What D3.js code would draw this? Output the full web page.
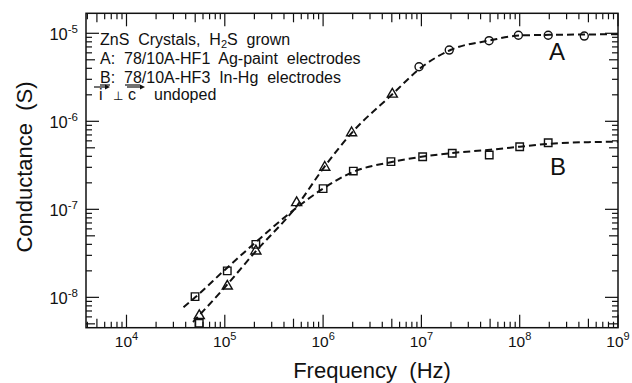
<!DOCTYPE html>
<html>
<head>
<meta charset="utf-8">
<script src="https://cdn.jsdelivr.net/npm/d3@7"></script>
<style>
    body { margin: 0; background: #fff; }
    text { font-family: "Liberation Sans", Arial, sans-serif; fill: #111; }
</style>
</head>
<body>
<svg id="chart" width="632" height="383"></svg>
<script>
// sample A, low frequency (triangles) and high frequency (circles)
const triangle_freq = [5.5e4, 1.06e5, 2.07e5, 5.38e5, 1.04e6, 1.95e6, 5.06e6];
const triangle_cond = [6.2e-9, 1.34e-8, 3.36e-8, 1.19e-7, 3.0e-7, 7.4e-7, 2.03e-6];
const circle_freq = [9.46e6, 1.92e7, 4.88e7, 9.7e7, 1.95e8, 4.54e8];
const circle_cond = [4.17e-6, 6.45e-6, 8.24e-6, 9.5e-6, 9.5e-6, 9.3e-6];

// sample B (squares)
const square_freq = [5.5e4, 4.98e4, 1.06e5, 2.07e5, 1.0e6, 2.03e6, 4.9e6, 1.03e7, 2.06e7, 4.9e7, 1.0e8, 1.95e8];
const square_cond = [5.07e-9, 1.02e-8, 2.0e-8, 4.0e-8, 1.72e-7, 2.72e-7, 3.48e-7, 3.96e-7, 4.33e-7, 4.14e-7, 5.14e-7, 5.71e-7];

// dashed fit curves
const fit_a_freq = [4.75e4, 1e5, 2e5, 5.5e5, 1e6, 2e6, 5e6, 1e7, 2e7, 5e7, 1e8, 2e8, 5e8, 1e9];
const fit_a_cond = [5.25e-9, 1.3e-8, 3.2e-8, 1.12e-7, 2.9e-7, 7.6e-7, 2.0e-6, 4.1e-6, 6.5e-6, 8.3e-6, 9.45e-6, 9.6e-6, 9.7e-6, 9.75e-6];
const fit_b_freq = [3.8e4, 5e4, 1e5, 2e5, 5e5, 1e6, 2e6, 5e6, 1e7, 2e7, 5e7, 1e8, 2e8, 5e8, 1e9];
const fit_b_cond = [7.7e-9, 1.0e-8, 2.05e-8, 4.1e-8, 9.8e-8, 1.72e-7, 2.65e-7, 3.45e-7, 3.95e-7, 4.35e-7, 4.75e-7, 5.15e-7, 5.55e-7, 5.8e-7, 5.86e-7];

// axis decades with labels
const x_decades = [4, 5, 6, 7, 8, 9];
const y_decades = [-8, -7, -6, -5];

const legend_lines = [
    "ZnS  Crystals,  H|2|S  grown",
    "A:  78/10A-HF1  Ag-paint  electrodes",
    "B:  78/10A-HF3  In-Hg  electrodes",
];

const width = 632;
const height = 383;
const margin = { top: 13.3, right: 14, bottom: 55.3, left: 86 };
const left = margin.left, right = width - margin.right;
const top_ = margin.top, bottom = height - margin.bottom;

const svg = d3.select('#chart');

const x = d3.scaleLog().domain([3.873e3, 1e9]).range([left, right]);
const y = d3.scaleLog().domain([4.52e-9, 1.687e-5]).range([bottom, top_]);

// frame
svg.append('rect')
    .attr('x', left).attr('y', top_)
    .attr('width', right - left).attr('height', bottom - top_)
    .attr('fill', 'none').attr('stroke', '#111').attr('stroke-width', 1.5);

function log_ticks(scale, e0, e1) {
    const [d0, d1] = scale.domain();
    const out = [];
    for (let e = e0; e <= e1; e++) {
        for (let m = 1; m <= 9; m++) {
            const v = m * Math.pow(10, e);
            if (v >= d0 * 0.999 && v <= d1 * 1.001) out.push({ v, m });
        }
    }
    return out;
}
const tick_len = m => m === 1 ? 13 : (m === 5 ? 9 : 6);

const ticks = svg.append('g').attr('stroke', '#111').attr('stroke-width', 1.2);

log_ticks(x, 3, 9).forEach(t => {
    const px = x(t.v), len = tick_len(t.m);
    ticks.append('line').attr('x1', px).attr('x2', px).attr('y1', bottom).attr('y2', bottom - len);
    ticks.append('line').attr('x1', px).attr('x2', px).attr('y1', top_).attr('y2', top_ + len);
});
log_ticks(y, -9, -5).forEach(t => {
    const py = y(t.v), len = tick_len(t.m);
    ticks.append('line').attr('x1', left).attr('x2', left + len).attr('y1', py).attr('y2', py);
    ticks.append('line').attr('x1', right).attr('x2', right - len).attr('y1', py).attr('y2', py);
});

// tick labels
x_decades.forEach(e => {
    const t = svg.append('text')
        .attr('x', x(Math.pow(10, e)))
        .attr('y', 347)
        .attr('text-anchor', 'middle')
        .style('font-size', '15.5px');
    t.append('tspan').text('10');
    t.append('tspan').attr('dy', -7).style('font-size', '11px').text(e);
});
y_decades.forEach(e => {
    const t = svg.append('text')
        .attr('x', 78)
        .attr('y', y(Math.pow(10, e)) + 7)
        .attr('text-anchor', 'end')
        .style('font-size', '16.5px');
    t.append('tspan').text('10');
    t.append('tspan').attr('dy', -7).style('font-size', '11.5px').text('-' + Math.abs(e));
});

// axis titles
svg.append('text')
    .attr('x', 372).attr('y', 378)
    .attr('text-anchor', 'middle')
    .style('font-size', '22px')
    .style('white-space', 'pre')
    .text('Frequency  (Hz)');
svg.append('text')
    .attr('transform', 'translate(32,167) rotate(-90)')
    .attr('text-anchor', 'middle')
    .style('font-size', '22px')
    .style('white-space', 'pre')
    .text('Conductance  (S)');

// fit curves
const line = d3.line()
    .x(d => x(d[0]))
    .y(d => y(d[1]))
    .curve(d3.curveMonotoneX);

[[fit_a_freq, fit_a_cond], [fit_b_freq, fit_b_cond]].forEach(([f, c]) => {
    svg.append('path')
        .datum(d3.zip(f, c))
        .attr('d', line)
        .attr('fill', 'none')
        .attr('stroke', '#111')
        .attr('stroke-width', 2)
        .attr('stroke-dasharray', '7,4');
});

// markers
const marks = svg.append('g').attr('fill', 'none').attr('stroke', '#111').attr('stroke-width', 1.4);

marks.selectAll('.tri')
    .data(d3.zip(triangle_freq, triangle_cond))
    .enter().append('path')
    .attr('class', 'tri')
    .attr('d', d3.symbol(d3.symbolTriangle, 44))
    .attr('transform', d => `translate(${x(d[0])},${y(d[1])})`);

marks.selectAll('.circ')
    .data(d3.zip(circle_freq, circle_cond))
    .enter().append('circle')
    .attr('class', 'circ')
    .attr('r', 4)
    .attr('cx', d => x(d[0]))
    .attr('cy', d => y(d[1]));

marks.selectAll('.sq')
    .data(d3.zip(square_freq, square_cond))
    .enter().append('path')
    .attr('class', 'sq')
    .attr('d', d3.symbol(d3.symbolSquare, 56))
    .attr('transform', d => `translate(${x(d[0])},${y(d[1])})`);

// curve labels
svg.append('text').attr('x', 557).attr('y', 60).attr('text-anchor', 'middle').style('font-size', '24px').text('A');
svg.append('text').attr('x', 558).attr('y', 175).attr('text-anchor', 'middle').style('font-size', '24px').text('B');

// legend block
const legend = svg.append('g').style('font-size', '16px');
const baselines = [45, 64, 83];
legend_lines.forEach((s, i) => {
    const t = legend.append('text')
        .attr('x', 100).attr('y', baselines[i])
        .style('white-space', 'pre');
    const parts = s.split('|');
    parts.forEach((p, j) => {
        if (j === 1) {
            t.append('tspan').attr('dy', 3).style('font-size', '11px').text(p);
        } else {
            const ts = t.append('tspan').text(p);
            if (j === 2) ts.attr('dy', -3);
        }
    });
});

// underline marks on line B
const deco = svg.append('g').attr('stroke', '#111').attr('stroke-width', 1.2);
deco.append('line').attr('x1', 100).attr('x2', 110).attr('y1', 85).attr('y2', 85);
deco.append('line').attr('x1', 125).attr('x2', 140).attr('y1', 85).attr('y2', 85);

// "i ⊥ c undoped" with arrows
const row4 = legend.append('text').attr('y', 100);
row4.append('tspan').attr('x', 99).text('i');
row4.append('tspan').attr('x', 113).style('font-size', '12px').text('⊥');
row4.append('tspan').attr('x', 128).text('c');
row4.append('tspan').attr('x', 154).text('undoped');

[[94, 110], [127, 145]].forEach(([x0, x1]) => {
    deco.append('line').attr('x1', x0).attr('x2', x1 - 3).attr('y1', 87).attr('y2', 87);
    svg.append('path')
        .attr('d', `M${x1},87 L${x1 - 5},84.5 L${x1 - 5},89.5 Z`)
        .attr('fill', '#111');
});
</script>
</body>
</html>
